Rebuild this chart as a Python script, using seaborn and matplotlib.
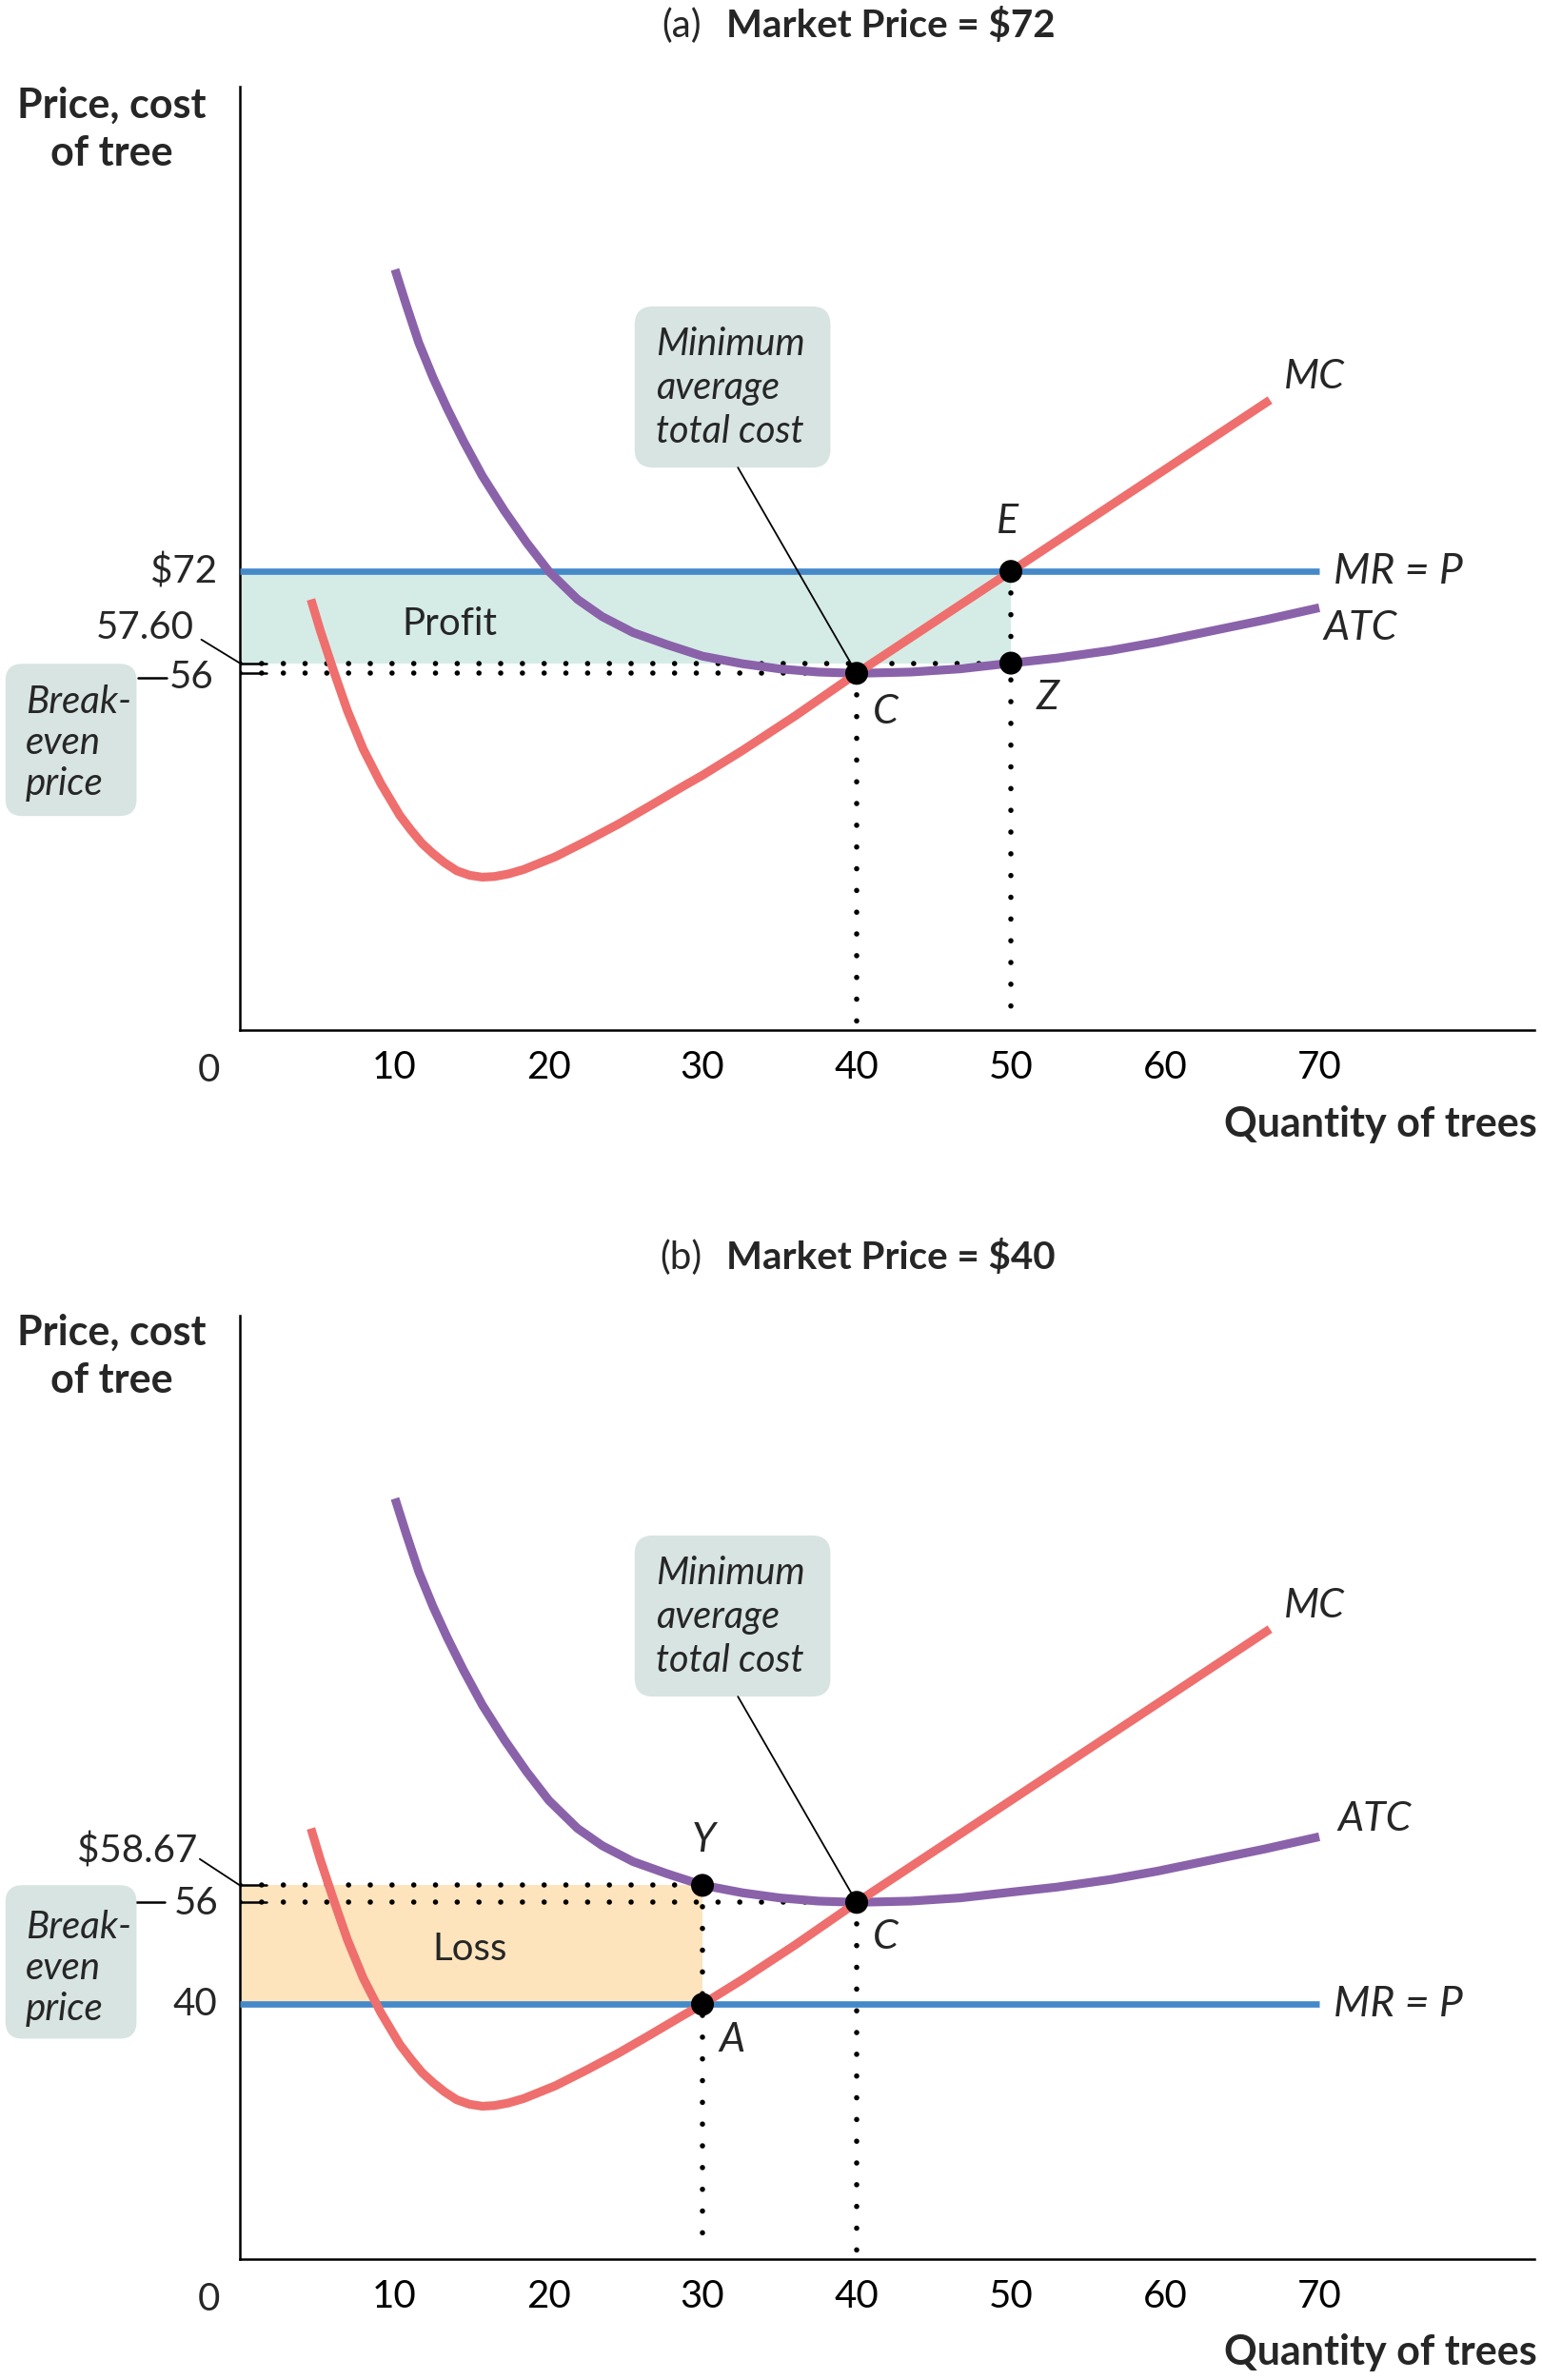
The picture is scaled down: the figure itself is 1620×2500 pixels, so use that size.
import numpy as np
import pandas as pd
import matplotlib
matplotlib.use("Agg")
import matplotlib.pyplot as plt
import seaborn as sns
from matplotlib.patches import FancyBboxPatch

# --- values ------------------------------------------------------------
# marginal cost curve (quantity, cost)
mc_q = [4.61, 5.23, 6.05, 6.98, 8.0, 9.14, 10.37, 11.09, 11.81, 12.53, 13.25,
        14.07, 14.9, 15.72, 16.5, 17.4, 18.4, 20.45, 22.5, 24.6, 26.6, 28.7,
        30.0, 32.6, 36.0, 40.0, 45.0, 50.0, 55.0, 60.0, 66.8]
mc_v = [67.6, 62.6, 56.6, 50.1, 44.1, 38.7, 33.7, 31.4, 29.3, 27.7, 26.3,
        25.0, 24.3, 24.0, 24.1, 24.5, 25.2, 27.2, 29.7, 32.4, 35.2, 38.2,
        40.0, 43.9, 49.3, 56.0, 64.0, 72.0, 80.0, 88.0, 98.9]

# average total cost curve (quantity, cost)
atc_q = [10.06, 10.78, 11.6, 12.53, 13.46, 14.49, 15.72, 17.16, 18.6, 20.04,
         21.9, 23.5, 25.5, 27.7, 30.0, 32.6, 35.0, 37.5, 40.0, 43.5, 46.7,
         50.0, 53.0, 56.5, 59.5, 62.9, 66.5, 70.0]
atc_v = [119.4, 113.9, 107.9, 102.4, 97.5, 92.5, 87.0, 81.5, 76.5, 72.0,
         67.6, 64.9, 62.4, 60.5, 58.7, 57.5, 56.7, 56.2, 56.0, 56.2, 56.7,
         57.6, 58.4, 59.6, 60.9, 62.6, 64.4, 66.3]

x_ticks = [10, 20, 30, 40, 50, 60, 70]

min_atc = 56          # break-even price
q_min_atc = 40

price_a = 72          # panel (a)
q_a = 50
atc_a = 57.60

price_b = 40          # panel (b)
q_b = 30
atc_b = 58.67

# colours
c_mc = "#ee6f6d"
c_atc = "#8a62aa"
c_mr = "#4589c9"
c_profit = "#d5ece6"
c_loss = "#fde4bd"
c_box = "#d7e4e1"

sns.set_style("white")
plt.rcParams["font.family"] = ["Lato", "DejaVu Sans"]

fig = plt.figure(figsize=(16.2, 25), dpi=100)
ax_a = fig.add_axes([0.15556, 0.5672, 0.83951, 0.3964])
ax_b = fig.add_axes([0.15556, 0.0508, 0.83951, 0.3964])

dot = dict(color="black", lw=4.0, linestyle=(0, (0.01, 4.1)),
           dash_capstyle="round")
ASPECT = 16.2 / 6.69  # x px per unit / y px per unit


def base(ax):
    ax.set_xlim(0, 83.95)
    ax.set_ylim(0, 148.1)
    for s in ["top", "right"]:
        ax.spines[s].set_visible(False)
    for s in ["left", "bottom"]:
        ax.spines[s].set_linewidth(1.8)
        ax.spines[s].set_color("black")
    ax.set_yticks([])
    ax.set_xticks(x_ticks)
    ax.set_xticklabels([str(t) for t in x_ticks])
    ax.tick_params(axis="x", direction="in", length=21, width=1.5,
                   pad=15, labelsize=29, colors="black")
    ax.set_xlabel("")
    ax.set_ylabel("")
    ax.text(-2.0, -6.4, "0", ha="center", va="center", fontsize=29)


def curves(ax):
    df_mc = pd.DataFrame({"q": mc_q, "cost": mc_v})
    df_atc = pd.DataFrame({"q": atc_q, "cost": atc_v})
    sns.lineplot(data=df_atc, x="q", y="cost", sort=False, estimator=None,
                 color=c_atc, lw=6.6, solid_capstyle="butt",
                 solid_joinstyle="round", ax=ax, zorder=4)
    sns.lineplot(data=df_mc, x="q", y="cost", sort=False, estimator=None,
                 color=c_mc, lw=6.6, solid_capstyle="butt",
                 solid_joinstyle="round", ax=ax, zorder=5)
    ax.set_xlabel("")
    ax.set_ylabel("")


def min_box(ax):
    box = FancyBboxPatch((25.6, 88.3), 12.7, 25.3,
                         boxstyle="round,pad=0,rounding_size=1.2",
                         mutation_aspect=ASPECT, fc=c_box, ec="none", zorder=6)
    ax.add_patch(box)
    ax.text(27.0, 100.8, "Minimum\naverage\ntotal cost", ha="left",
            va="center", fontsize=28.5, style="italic", linespacing=1.3,
            zorder=7)
    ax.plot([32.3, q_min_atc], [88.3, min_atc], color="black", lw=1.3,
            zorder=6)


def break_box(ax, y0, y1, yc):
    box = FancyBboxPatch((-15.2, y0), 8.5, y1 - y0,
                         boxstyle="round,pad=0,rounding_size=1.1",
                         mutation_aspect=ASPECT, fc=c_box, ec="none",
                         clip_on=False, zorder=6)
    ax.add_patch(box)
    ax.text(-13.9, yc, "Break-\neven\nprice", ha="left", va="center",
            fontsize=29, style="italic", linespacing=1.2, zorder=7)


def lbl(ax, x, y, s, ha="left", size=31):
    ax.text(x, y, s, ha=ha, va="center", fontsize=size, style="italic",
            zorder=8)


# ---------------- panel (a) -------------------
ax = ax_a
base(ax)
ax.fill_between([0, q_a], atc_a, price_a, color=c_profit, lw=0, zorder=1)
ax.plot([0, q_a], [atc_a, atc_a], zorder=2, **dot)
ax.plot([0, q_min_atc], [min_atc, min_atc], zorder=2, **dot)
ax.plot([q_min_atc, q_min_atc], [min_atc, 1.0], zorder=2, **dot)
ax.plot([q_a, q_a], [price_a, 1.0], zorder=2, **dot)
for yv in [atc_a, min_atc]:
    ax.plot([0, 1.7], [yv, yv], color="black", lw=1.8, zorder=3)
ax.hlines(price_a, 0, 70, color=c_mr, lw=4.8, zorder=3)
curves(ax)
sns.scatterplot(x=[q_min_atc, q_a, q_a], y=[min_atc, price_a, atc_a],
                s=300, color="black", edgecolor="none", zorder=9, ax=ax,
                legend=False)
ax.set_xlabel("")
ax.set_ylabel("")
ax.text(13.6, 63.7, "Profit", ha="center", va="center", fontsize=29, zorder=8)
lbl(ax, 49.8, 79.8, "E", ha="center")
lbl(ax, 41.9, 49.9, "C", ha="center")
lbl(ax, 52.4, 52.1, "Z", ha="center")
lbl(ax, 67.7, 102.5, "MC")
lbl(ax, 70.9, 72.0, "MR = P", size=32)
lbl(ax, 70.3, 63.1, "ATC")
min_box(ax)
break_box(ax, 33.6, 57.5, 45.0)
ax.text(-1.5, price_a, "$72", ha="right", va="center", fontsize=29)
ax.text(-3.0, 63.2, "57.60", ha="right", va="center", fontsize=29)
ax.plot([-2.5, 0], [61.3, atc_a], color="black", lw=1.3, clip_on=False)
ax.text(-1.67, 55.3, "56", ha="right", va="center", fontsize=29)
ax.plot([-6.6, -4.75], [55.3, 55.3], color="black", lw=1.8, clip_on=False)

# ---------------- panel (b) -------------------
ax = ax_b
base(ax)
ax.fill_between([0, q_b], price_b, atc_b, color=c_loss, lw=0, zorder=1)
ax.plot([0, q_b], [atc_b, atc_b], zorder=2, **dot)
ax.plot([0, q_min_atc], [min_atc, min_atc], zorder=2, **dot)
ax.plot([q_b, q_b], [atc_b, 1.0], zorder=2, **dot)
ax.plot([q_min_atc, q_min_atc], [min_atc, 1.0], zorder=2, **dot)
for yv in [atc_b, min_atc]:
    ax.plot([0, 1.7], [yv, yv], color="black", lw=1.8, zorder=3)
ax.hlines(price_b, 0, 70, color=c_mr, lw=4.8, zorder=3)
curves(ax)
sns.scatterplot(x=[q_b, q_b, q_min_atc], y=[atc_b, price_b, min_atc],
                s=300, color="black", edgecolor="none", zorder=9, ax=ax,
                legend=False)
ax.set_xlabel("")
ax.set_ylabel("")
ax.text(14.9, 48.6, "Loss", ha="center", va="center", fontsize=29, zorder=8)
lbl(ax, 30.1, 65.8, "Y", ha="center")
lbl(ax, 31.9, 34.4, "A", ha="center")
lbl(ax, 41.9, 50.5, "C", ha="center")
lbl(ax, 67.7, 102.5, "MC")
lbl(ax, 70.9, 40.0, "MR = P", size=32)
lbl(ax, 71.2, 69.0, "ATC")
min_box(ax)
break_box(ax, 34.6, 58.7, 45.7)
ax.text(-2.78, 64.1, "$58.67", ha="right", va="center", fontsize=29)
ax.plot([-2.6, 0], [62.8, atc_b], color="black", lw=1.3, clip_on=False)
ax.text(-1.36, 55.8, "56", ha="right", va="center", fontsize=29)
ax.plot([-6.9, -4.85], [56.0, 56.0], color="black", lw=1.8, clip_on=False)
ax.text(-1.48, price_b, "40", ha="right", va="center", fontsize=29)

# ---------------- titles and axis labels -------------------
for yt, tag, ttl in [(0.9892, "(a)", "Market Price = $72"),
                     (0.4714, "(b)", "Market Price = $40")]:
    fig.text(737 / 1620, yt, tag, ha="right", va="center", fontsize=29)
    fig.text(763 / 1620, yt, ttl, ha="left", va="center", fontsize=29,
             fontweight="bold")

for yl in [0.9456, 0.43]:
    fig.text(117 / 1620, yl, "Price, cost\nof tree", ha="center", va="center",
             fontsize=31, fontweight="bold", linespacing=1.3)

for yq in [0.5276, 0.0116]:
    fig.text(1615 / 1620, yq, "Quantity of trees", ha="right", va="center",
             fontsize=31, fontweight="bold")

fig.savefig("out.png", dpi=100)
